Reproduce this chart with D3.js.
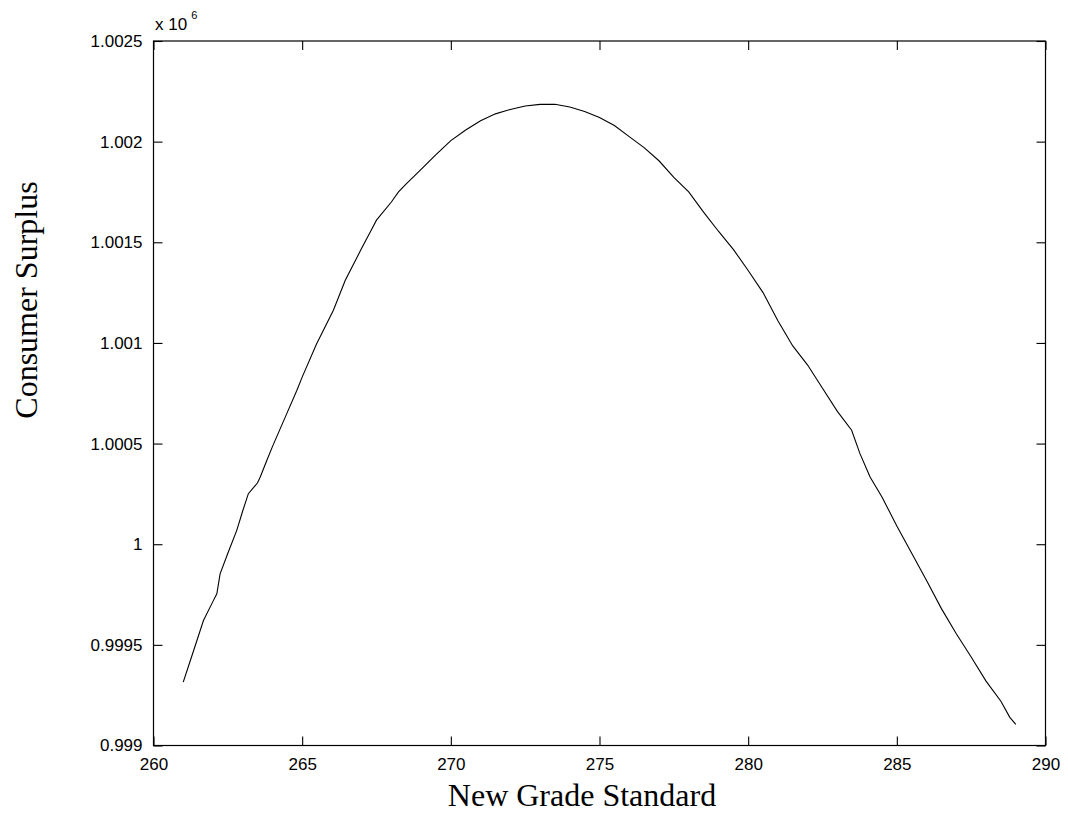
<!DOCTYPE html>
<html>
<head>
<meta charset="utf-8">
<script src="https://cdn.jsdelivr.net/npm/d3@7"></script>
<style>
  html, body { margin: 0; padding: 0; background: #fff; }
  svg { display: block; }
</style>
</head>
<body>
<svg id="chart" width="1068" height="815"></svg>
<script>
// ---- data ----
const gradeStandard = [
  261.0, 261.35, 261.68, 262.0, 262.13, 262.24, 262.5, 262.8, 263.0, 263.19, 263.5, 263.59, 263.81,
  264.0, 264.5, 264.82, 265.0, 265.49, 265.5, 266.05, 266.45, 267.0, 267.29, 267.5, 268.0, 268.24,
  268.5, 269.0, 269.5, 270.0, 270.5, 271.0, 271.5, 272.0, 272.5, 273.0, 273.5, 274.0, 274.5, 275.0,
  275.5, 276.0, 276.5, 277.0, 277.5, 278.0, 278.5, 279.0, 279.5, 280.0, 280.5, 281.0, 281.5, 282.0,
  282.5, 283.0, 283.48, 283.76, 284.1, 284.5, 285.0, 285.5, 286.0, 286.5, 287.0, 287.5, 288.0, 288.5,
  288.8, 289.0
];
const consumerSurplus = [
  0.999315, 0.999472, 0.999621, 0.999716, 0.999754, 0.999853, 0.999955, 1.000069, 1.000165, 1.000251, 1.000305, 1.000334, 1.000416,
  1.000485, 1.000655, 1.000764, 1.000830, 1.000997, 1.001000, 1.001162, 1.001311, 1.001470, 1.001551, 1.001610, 1.001700, 1.001750,
  1.001790, 1.001862, 1.001935, 1.002005, 1.002058, 1.002104, 1.002138, 1.002160, 1.002177, 1.002185, 1.002186, 1.002172, 1.002150, 1.002120,
  1.002080, 1.002025, 1.001970, 1.001905, 1.001822, 1.001750, 1.001650, 1.001555, 1.001465, 1.001360, 1.001250, 1.001110, 1.000985, 1.000890,
  1.000775, 1.000660, 1.000566, 1.000450, 1.000334, 1.000235, 1.000090, 0.999955, 0.999820, 0.999680, 0.999555, 0.999440, 0.999320, 0.999220,
  0.999140, 0.999105
];
const xTicks = [260, 265, 270, 275, 280, 285, 290];
const yTicks = [0.999, 0.9995, 1.0, 1.0005, 1.001, 1.0015, 1.002, 1.0025];
const yTickLabels = ["0.999", "0.9995", "1", "1.0005", "1.001", "1.0015", "1.002", "1.0025"];
const xLabel = "New Grade Standard";
const yLabel = "Consumer Surplus";

// ---- layout ----
const L = 153.5, R = 1045.5, T = 41, B = 745.5;
const svg = d3.select("#chart");
const x = d3.scaleLinear().domain([260, 290]).range([L, R]);
const y = d3.scaleLinear().domain([0.999, 1.0025]).range([B, T]);

const tickFont = "'Liberation Sans', Arial, Helvetica, sans-serif";
const labelFont = "'Liberation Serif', 'Times New Roman', serif";
const tickLen = 9;

// box
svg.append("rect")
  .attr("x", L).attr("y", T).attr("width", R - L).attr("height", B - T)
  .attr("fill", "none").attr("stroke", "#000").attr("stroke-width", 1.2);

// axes (ticks inside on all four sides)
const xAxisB = d3.axisBottom(x).tickValues(xTicks).tickSize(-tickLen).tickPadding(12)
  .tickFormat(d3.format("d"));
const gxb = svg.append("g").attr("transform", `translate(0,${B})`).call(xAxisB);
const xAxisT = d3.axisTop(x).tickValues(xTicks).tickSize(-tickLen).tickFormat("");
const gxt = svg.append("g").attr("transform", `translate(0,${T})`).call(xAxisT);

const yAxisL = d3.axisLeft(y).tickValues(yTicks).tickSize(-tickLen).tickPadding(11)
  .tickFormat((d, i) => yTickLabels[i]);
const gyl = svg.append("g").attr("transform", `translate(${L},0)`).call(yAxisL);
const yAxisR = d3.axisRight(y).tickValues(yTicks).tickSize(-tickLen).tickFormat("");
const gyr = svg.append("g").attr("transform", `translate(${R},0)`).call(yAxisR);

[gxb, gxt, gyl, gyr].forEach(g => {
  g.select(".domain").remove();
  g.selectAll(".tick line").attr("stroke", "#000").attr("stroke-width", 1.1);
  g.selectAll(".tick text").attr("fill", "#000")
    .style("font-family", tickFont).style("font-size", "17px");
});

// exponent label
const expo = svg.append("text")
  .attr("x", 155).attr("y", 30)
  .style("font-family", tickFont).style("font-size", "17px").attr("fill", "#000");
expo.append("tspan").text("x 10");
expo.append("tspan").attr("dy", -11).style("font-size", "11px").attr("dx", 4).text("6");

// line
const line = d3.line()
  .x((d, i) => x(gradeStandard[i]))
  .y(d => y(d))
  .curve(d3.curveLinear);
svg.append("path")
  .datum(consumerSurplus)
  .attr("d", line)
  .attr("fill", "none")
  .attr("stroke", "#000")
  .attr("stroke-width", 1.1);

// axis labels
svg.append("text")
  .attr("x", 582).attr("y", 806)
  .attr("text-anchor", "middle")
  .style("font-family", labelFont).style("font-size", "32px").attr("fill", "#000")
  .text(xLabel);

svg.append("text")
  .attr("transform", "translate(37,300) rotate(-90)")
  .attr("text-anchor", "middle")
  .style("font-family", labelFont).style("font-size", "32px").attr("fill", "#000")
  .text(yLabel);
</script>
</body>
</html>
